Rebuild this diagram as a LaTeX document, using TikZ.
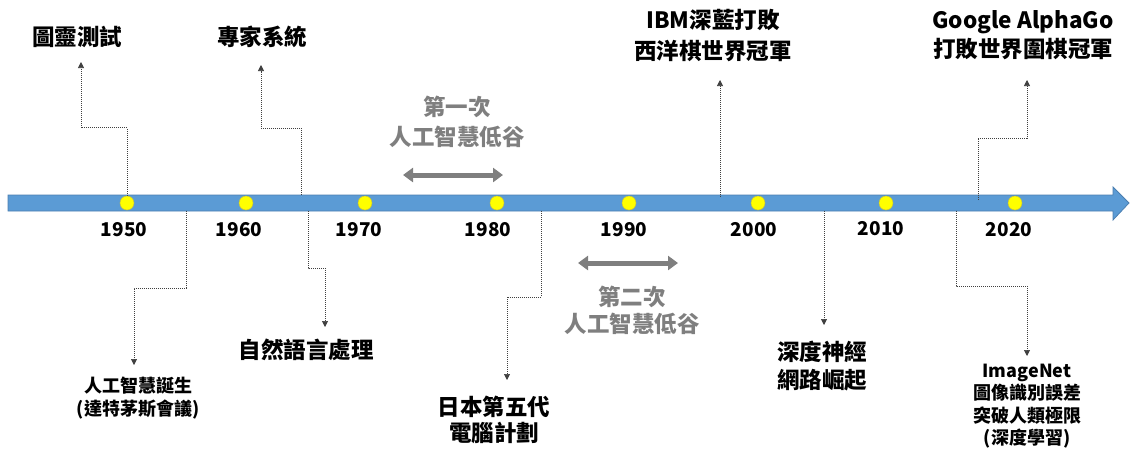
\documentclass[tikz,border=0pt]{standalone}
\usepackage{fontspec}
\setmainfont{Noto Sans CJK TC}
\usetikzlibrary{arrows.meta}
\definecolor{barblue}{HTML}{5B9BD5}
\definecolor{barline}{HTML}{4A7EB0}
\definecolor{dotyellow}{HTML}{FFFF00}
\definecolor{dotline}{HTML}{C9C23A}
\definecolor{graytxt}{HTML}{7F7F7F}
\definecolor{connc}{HTML}{404040}
\tikzset{
  lbl/.style={font=\bfseries\fontsize{22.5}{#1}\selectfont, align=center, inner sep=0pt, text=black},
  lbl/.default=28,
  lblsmall/.style={font=\bfseries\fontsize{18}{22.5}\selectfont, align=center, inner sep=0pt, text=black},
  yearlbl/.style={font=\bfseries\fontsize{19}{22}\selectfont, inner sep=0pt, text=black},
  graylbl/.style={lbl=#1, text=graytxt},
  conn/.style={draw=connc, line width=0.7pt, dash pattern=on 1pt off 1pt, -{Triangle[length=6pt,width=6pt]}},
  yeardot/.style={circle, fill=dotyellow, draw=dotline, line width=0.5pt, minimum size=14pt, inner sep=0pt},
  period/.style={draw=graytxt, line width=5pt, {Triangle[length=10pt,width=14pt]}-{Triangle[length=10pt,width=14pt]}},
  bar/.style={fill=barblue, draw=barline, line width=0.75pt}
}
\begin{document}
\begin{tikzpicture}[x=1pt,y=-1pt]
\useasboundingbox (0,0) rectangle (1130,451);
% timeline bar
\path[bar] (8,195) -- (1113,195) -- (1113,187) -- (1129,203) -- (1113,220) -- (1113,211) -- (8,211) -- cycle;

% year dots
\node[yeardot] (d1950) at (127,203) {};
\node[yeardot] (d1960) at (246,203) {};
\node[yeardot] (d1970) at (365,203) {};
\node[yeardot] (d1980) at (497,203) {};
\node[yeardot] (d1990) at (629,203) {};
\node[yeardot] (d2000) at (758,203) {};
\node[yeardot] (d2010) at (886,203) {};
\node[yeardot] (d2020) at (1015,203) {};

% year labels
\node[yearlbl] (y1950) at (124,230) {1950};
\node[yearlbl] (y1960) at (239,230) {1960};
\node[yearlbl] (y1970) at (359,230) {1970};
\node[yearlbl] (y1980) at (488,230) {1980};
\node[yearlbl] (y1990) at (624,230) {1990};
\node[yearlbl] (y2000) at (754,230) {2000};
\node[yearlbl] (y2010) at (881,228.5) {2010};
\node[yearlbl] (y2020) at (1009,230) {2020};

% event labels (top)
\node[lbl] (turing) at (77,37) {圖靈測試};
\node[lbl] (expert) at (262,37) {專家系統};
\node[lbl=31] (ibm) at (713,36) {IBM深藍打敗\\西洋棋世界冠軍};
\node[lbl=29] (alphago) at (1023,35) {Google AlphaGo\\打敗世界圍棋冠軍};
% event labels (bottom)
\node[lblsmall] (dartmouth) at (138,398) {人工智慧誕生\\(達特茅斯會議)};
\node[lbl] (nlp) at (306,350) {自然語言處理};
\node[lbl=26] (fifth) at (494,420) {日本第五代\\電腦計劃};
\node[lbl=28] (dnn) at (822,366) {深度神經\\網路崛起};
\node[lblsmall] (imagenet) at (1027,406) {ImageNet\\圖像識別誤差\\突破人類極限\\(深度學習)};

% AI winters
\node[graylbl=30] (winter1) at (457,122) {第一次\\人工智慧低谷};
\node[graylbl=27] (winter2) at (632,310) {第二次\\人工智慧低谷};
\coordinate (w1a) at (403,175);
\coordinate (w1b) at (503,175);
\coordinate (w2a) at (578,263);
\coordinate (w2b) at (678,263);
\draw[period] (w1a) -- (w1b);
\draw[period] (w2a) -- (w2b);

% connector anchors on the bar and arrow tips
\coordinate (s2) at (301,195);  \coordinate (e2) at (261,65);
\coordinate (s3) at (720,197);  \coordinate (e3) at (720,80);
\coordinate (s4) at (978,200);  \coordinate (e4) at (1027,80);
\coordinate (s5) at (186,211);  \coordinate (e5) at (134,365);
\coordinate (s6) at (308,211);  \coordinate (e6) at (325,327);
\coordinate (s7) at (541,211);  \coordinate (e7) at (507,380);
\coordinate (s8) at (824,211);  \coordinate (e8) at (824,325);
\coordinate (s9) at (956,211);  \coordinate (e9) at (1027,356);
\coordinate (e1) at (81,62);

\draw[conn] (d1950.north) -- ++(0,-68) -| (e1);
\draw[conn] (s2) -- ++(0,-67) -| (e2);
\draw[conn] (s3) -- (e3);
\draw[conn] (s4) -- ++(0,-62) -| (e4);
\draw[conn] (s5) -- ++(0,77) -| (e5);
\draw[conn] (s6) -- ++(0,57) -| (e6);
\draw[conn] (s7) -- ++(0,86) -| (e7);
\draw[conn] (s8) -- (e8);
\draw[conn] (s9) -- ++(0,75) -| (e9);
\end{tikzpicture}
\end{document}
